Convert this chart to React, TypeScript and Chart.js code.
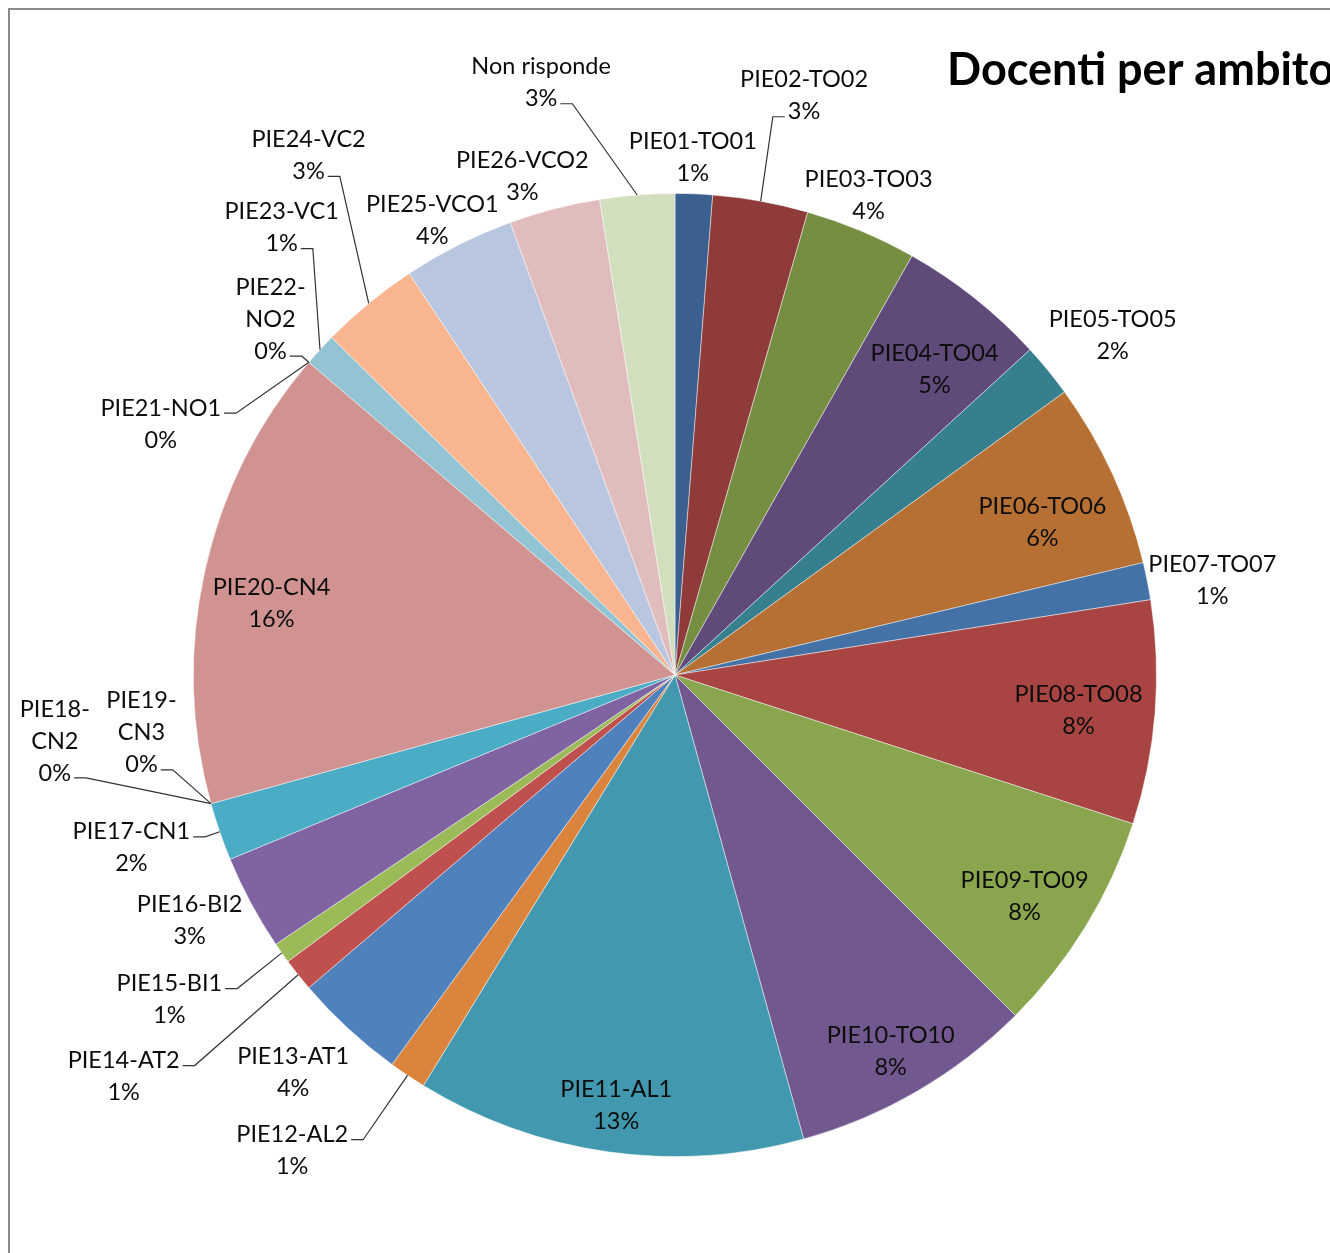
import React, { useEffect, useRef } from "react";
import { Chart, registerables } from "chart.js";

Chart.register(...registerables);

const categories = [
  "PIE01-TO01", "PIE02-TO02", "PIE03-TO03", "PIE04-TO04", "PIE05-TO05",
  "PIE06-TO06", "PIE07-TO07", "PIE08-TO08", "PIE09-TO09", "PIE10-TO10",
  "PIE11-AL1", "PIE12-AL2", "PIE13-AT1", "PIE14-AT2", "PIE15-BI1",
  "PIE16-BI2", "PIE17-CN1", "PIE18-CN2", "PIE19-CN3", "PIE20-CN4",
  "PIE21-NO1", "PIE22-NO2", "PIE23-VC1", "PIE24-VC2", "PIE25-VCO1",
  "PIE26-VCO2", "Non risponde",
];

const values = [
  9, 23, 27, 36, 13,
  45, 9, 54, 54, 59,
  94, 9, 27, 8, 5,
  23, 14, 0, 0, 112,
  0, 0, 8, 24, 27,
  22, 18,
];

const sliceColors = [
  "#3B5F8F", "#8E3B39", "#758E41", "#5F4A7A", "#357F8F",
  "#B77034", "#4472A7", "#A84543", "#89A64E", "#71588F",
  "#4198AF", "#DB843D", "#4F81BD", "#C0504D", "#9BBB59",
  "#8064A2", "#4BACC6", "#F79646", "#2C4D75", "#D19392",
  "#772C2A", "#93C4D4", "#93C4D4", "#F9B590", "#B9C6E0",
  "#E1BCBC", "#D2DFBE",
];

// label text lines (category name split where the original wraps)
const labelNameLines = [
  ["PIE01-TO01"], ["PIE02-TO02"], ["PIE03-TO03"], ["PIE04-TO04"], ["PIE05-TO05"],
  ["PIE06-TO06"], ["PIE07-TO07"], ["PIE08-TO08"], ["PIE09-TO09"], ["PIE10-TO10"],
  ["PIE11-AL1"], ["PIE12-AL2"], ["PIE13-AT1"], ["PIE14-AT2"], ["PIE15-BI1"],
  ["PIE16-BI2"], ["PIE17-CN1"], ["PIE18-", "CN2"], ["PIE19-", "CN3"], ["PIE20-CN4"],
  ["PIE21-NO1"], ["PIE22-", "NO2"], ["PIE23-VC1"], ["PIE24-VC2"], ["PIE25-VCO1"],
  ["PIE26-VCO2"], ["Non risponde"],
];

// label block centre, relative to the pie centre, in units of the radius
const labelPlacement: [number, number][] = [
  [0.037, -1.075], [0.268, -1.203], [0.402, -0.996], [0.539, -0.635], [0.909, -0.705],
  [0.763, -0.317], [1.116, -0.197], [0.838, 0.073], [0.726, 0.459], [0.448, 0.782],
  [-0.122, 0.894], [-0.795, 0.988], [-0.793, 0.826], [-1.145, 0.834], [-1.05, 0.674],
  [-1.008, 0.51], [-1.129, 0.359], [-1.288, 0.137], [-1.108, 0.12], [-0.838, -0.149],
  [-1.068, -0.521], [-0.84, -0.739], [-0.817, -0.929], [-0.761, -1.079], [-0.504, -0.944],
  [-0.317, -1.035], [-0.278, -1.23],
];

const labelLeader = [
  false, true, false, false, false,
  false, false, false, false, false,
  false, true, false, true, true,
  false, true, true, true, false,
  true, true, true, true, false,
  false, true,
];

const titleText = "Docenti per ambito";

const labelsPlugin = {
  id: "pieLabels",
  afterDatasetsDraw(chart: any) {
    const ctx = chart.ctx;
    const meta = chart.getDatasetMeta(0);
    const data = chart.data.datasets[0].data as number[];
    const total = data.reduce((a, b) => a + b, 0);
    const lineH = 32;
    ctx.save();
    ctx.font = "23.5px Lato, 'Noto Sans', sans-serif";
    ctx.textAlign = "center";
    ctx.textBaseline = "middle";
    meta.data.forEach((arc: any, i: number) => {
      const { x, y, startAngle, endAngle, outerRadius } = arc.getProps(
        ["x", "y", "startAngle", "endAngle", "outerRadius"], true
      );
      const pct = Math.round((data[i] * 100) / total) + "%";
      const lines = [...labelNameLines[i], pct];
      const [ox, oy] = labelPlacement[i];
      const cx = x + ox * outerRadius;
      const cy = y + oy * outerRadius;
      const top = cy - ((lines.length - 1) * lineH) / 2;
      ctx.fillStyle = "#0d0d0d";
      lines.forEach((t, k) => ctx.fillText(t, cx, top + k * lineH));
      if (labelLeader[i]) {
        const mid = (startAngle + endAngle) / 2;
        const ax = x + Math.cos(mid) * outerRadius;
        const ay = y + Math.sin(mid) * outerRadius;
        const useFirst = ay < cy;
        const li = useFirst ? 0 : lines.length - 1;
        const ly = top + li * lineH + 5;
        const w = ctx.measureText(lines[li]).width;
        const leftSide = cx < ax;
        const sx = leftSide ? cx + w / 2 + 3 : cx - w / 2 - 3;
        const ex = leftSide ? sx + 12 : sx - 12;
        ctx.strokeStyle = "#333333";
        ctx.lineWidth = 1.2;
        ctx.beginPath();
        ctx.moveTo(sx, ly);
        ctx.lineTo(ex, ly);
        ctx.lineTo(ax, ay);
        ctx.stroke();
      }
    });
    ctx.font = "bold 45px Lato, 'Noto Sans', sans-serif";
    ctx.textAlign = "left";
    ctx.textBaseline = "alphabetic";
    ctx.fillStyle = "#000000";
    ctx.fillText(titleText, 947, 85);
    ctx.restore();
  },
};

export default function App() {
  const ref = useRef<HTMLCanvasElement | null>(null);
  useEffect(() => {
    if (!ref.current) return;
    const chart = new Chart(ref.current, {
      type: "pie",
      data: {
        labels: categories,
        datasets: [
          {
            data: values,
            backgroundColor: sliceColors,
            borderColor: "rgba(255,255,255,0.45)",
            borderWidth: 1,
          },
        ],
      },
      options: {
        responsive: false,
        animation: false,
        layout: { padding: { left: 193, top: 193, right: 173, bottom: 96 } },
        plugins: {
          legend: { display: false },
          title: { display: false },
          tooltip: { enabled: false },
        },
      },
      plugins: [labelsPlugin],
    });
    return () => chart.destroy();
  }, []);
  return (
    <div style={{ position: "fixed", left: 0, top: 0, width: 1330, height: 1253, overflow: "hidden", background: "#fff" }}>
      <div style={{ position: "absolute", left: 8, top: 8, width: 1400, height: 1400, border: "2px solid #8a8a8a", boxSizing: "border-box" }} />
      <canvas ref={ref} width={1330} height={1253} style={{ position: "absolute", left: 0, top: 0 }} />
    </div>
  );
}
